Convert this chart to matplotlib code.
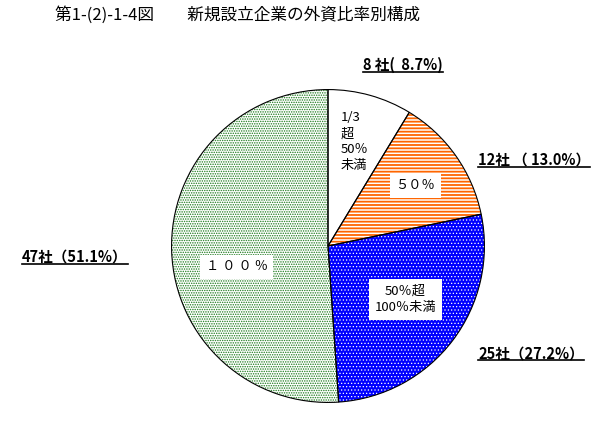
import matplotlib
matplotlib.use('Agg')
import matplotlib.pyplot as plt
from matplotlib.lines import Line2D

plt.rcParams['font.family'] = ['Noto Sans CJK JP', 'DejaVu Sans']
plt.rcParams['hatch.linewidth'] = 1.0

# データ
title = '第1-(2)-1-4図　　新規設立企業の外資比率別構成'
categories = ['1/3超50%未満', '50%', '50%超100%未満', '100%']
counts = [8, 12, 25, 47]
shares = [8.7, 13.0, 27.2, 51.1]
inner_labels = ['1/3\n超\n50％\n未満', '５０％', '50％超\n100％未満', '１ ０ ０ ％']
outer_labels = ['8 社(  8.7%)', '12社 （ 13.0%）', '25社（27.2%）', '47社（51.1%）']

# 塗り・模様
fills = ['white', 'white', '#0000ff', 'white']
hatch_colors = ['white', '#ff6600', 'white', '#1a7a1a']
hatches = ['', '-----', '.....', '.......']
hatch_lws = [1.0, 1.3, 0.5, 0.7]

# ラベル位置
inner_pos = [(0.082, 0.665), (0.557, 0.386), (0.494, -0.342), (-0.582, -0.133)]
inner_ha = ['left', 'center', 'center', 'center']
inner_box = [False, True, True, True]
outer_pos = [(0.596, 0.847), (0.785, 0.623), (0.785, 0.167), (0.036, 0.394)]

fig = plt.figure(figsize=(6.09, 4.24), dpi=100)
ax = fig.add_axes([170 / 609, 20 / 424, 316 / 609, 316 / 424])

# 模様の層
wedges, _ = ax.pie(counts, startangle=90, counterclock=False, radius=1,
                   colors=fills, hatch=hatches, wedgeprops=dict(linewidth=0))
for w, hc, hl in zip(wedges, hatch_colors, hatch_lws):
    w.set_edgecolor(hc)
    w.set_linewidth(0)
    if hasattr(w, 'set_hatch_linewidth'):
        w.set_hatch_linewidth(hl)

# 輪郭の層
edges, _ = ax.pie(counts, startangle=90, counterclock=False, radius=1,
                  wedgeprops=dict(fill=False, edgecolor='black', linewidth=0.8))

ax.set_xlim(-1.01, 1.01)
ax.set_ylim(-1.01, 1.01)
ax.set_aspect('equal')
ax.axis('off')

for txt, (x, y), ha, box in zip(inner_labels, inner_pos, inner_ha, inner_box):
    kw = {}
    if box:
        kw['bbox'] = dict(facecolor='white', edgecolor='none', pad=4)
    ax.text(x, y, txt, ha=ha, va='center', fontsize=9.5, linespacing=1.3, **kw)

fig.text(0.090, 0.965, title, ha='left', va='center', fontsize=12)

outer_texts = []
for txt, (x, y) in zip(outer_labels, outer_pos):
    t = fig.text(x, y, txt, ha='left', va='center', fontsize=10.5, fontweight='bold')
    outer_texts.append(t)

# 下線
fig.canvas.draw()
r = fig.canvas.get_renderer()
for t in outer_texts:
    bb = t.get_window_extent(r)
    yl = (bb.y0 + 1) / fig.bbox.height
    fig.add_artist(Line2D([bb.x0 / fig.bbox.width, bb.x1 / fig.bbox.width], [yl, yl],
                          color='black', linewidth=1.2))

fig.savefig('out.png', dpi=100)
